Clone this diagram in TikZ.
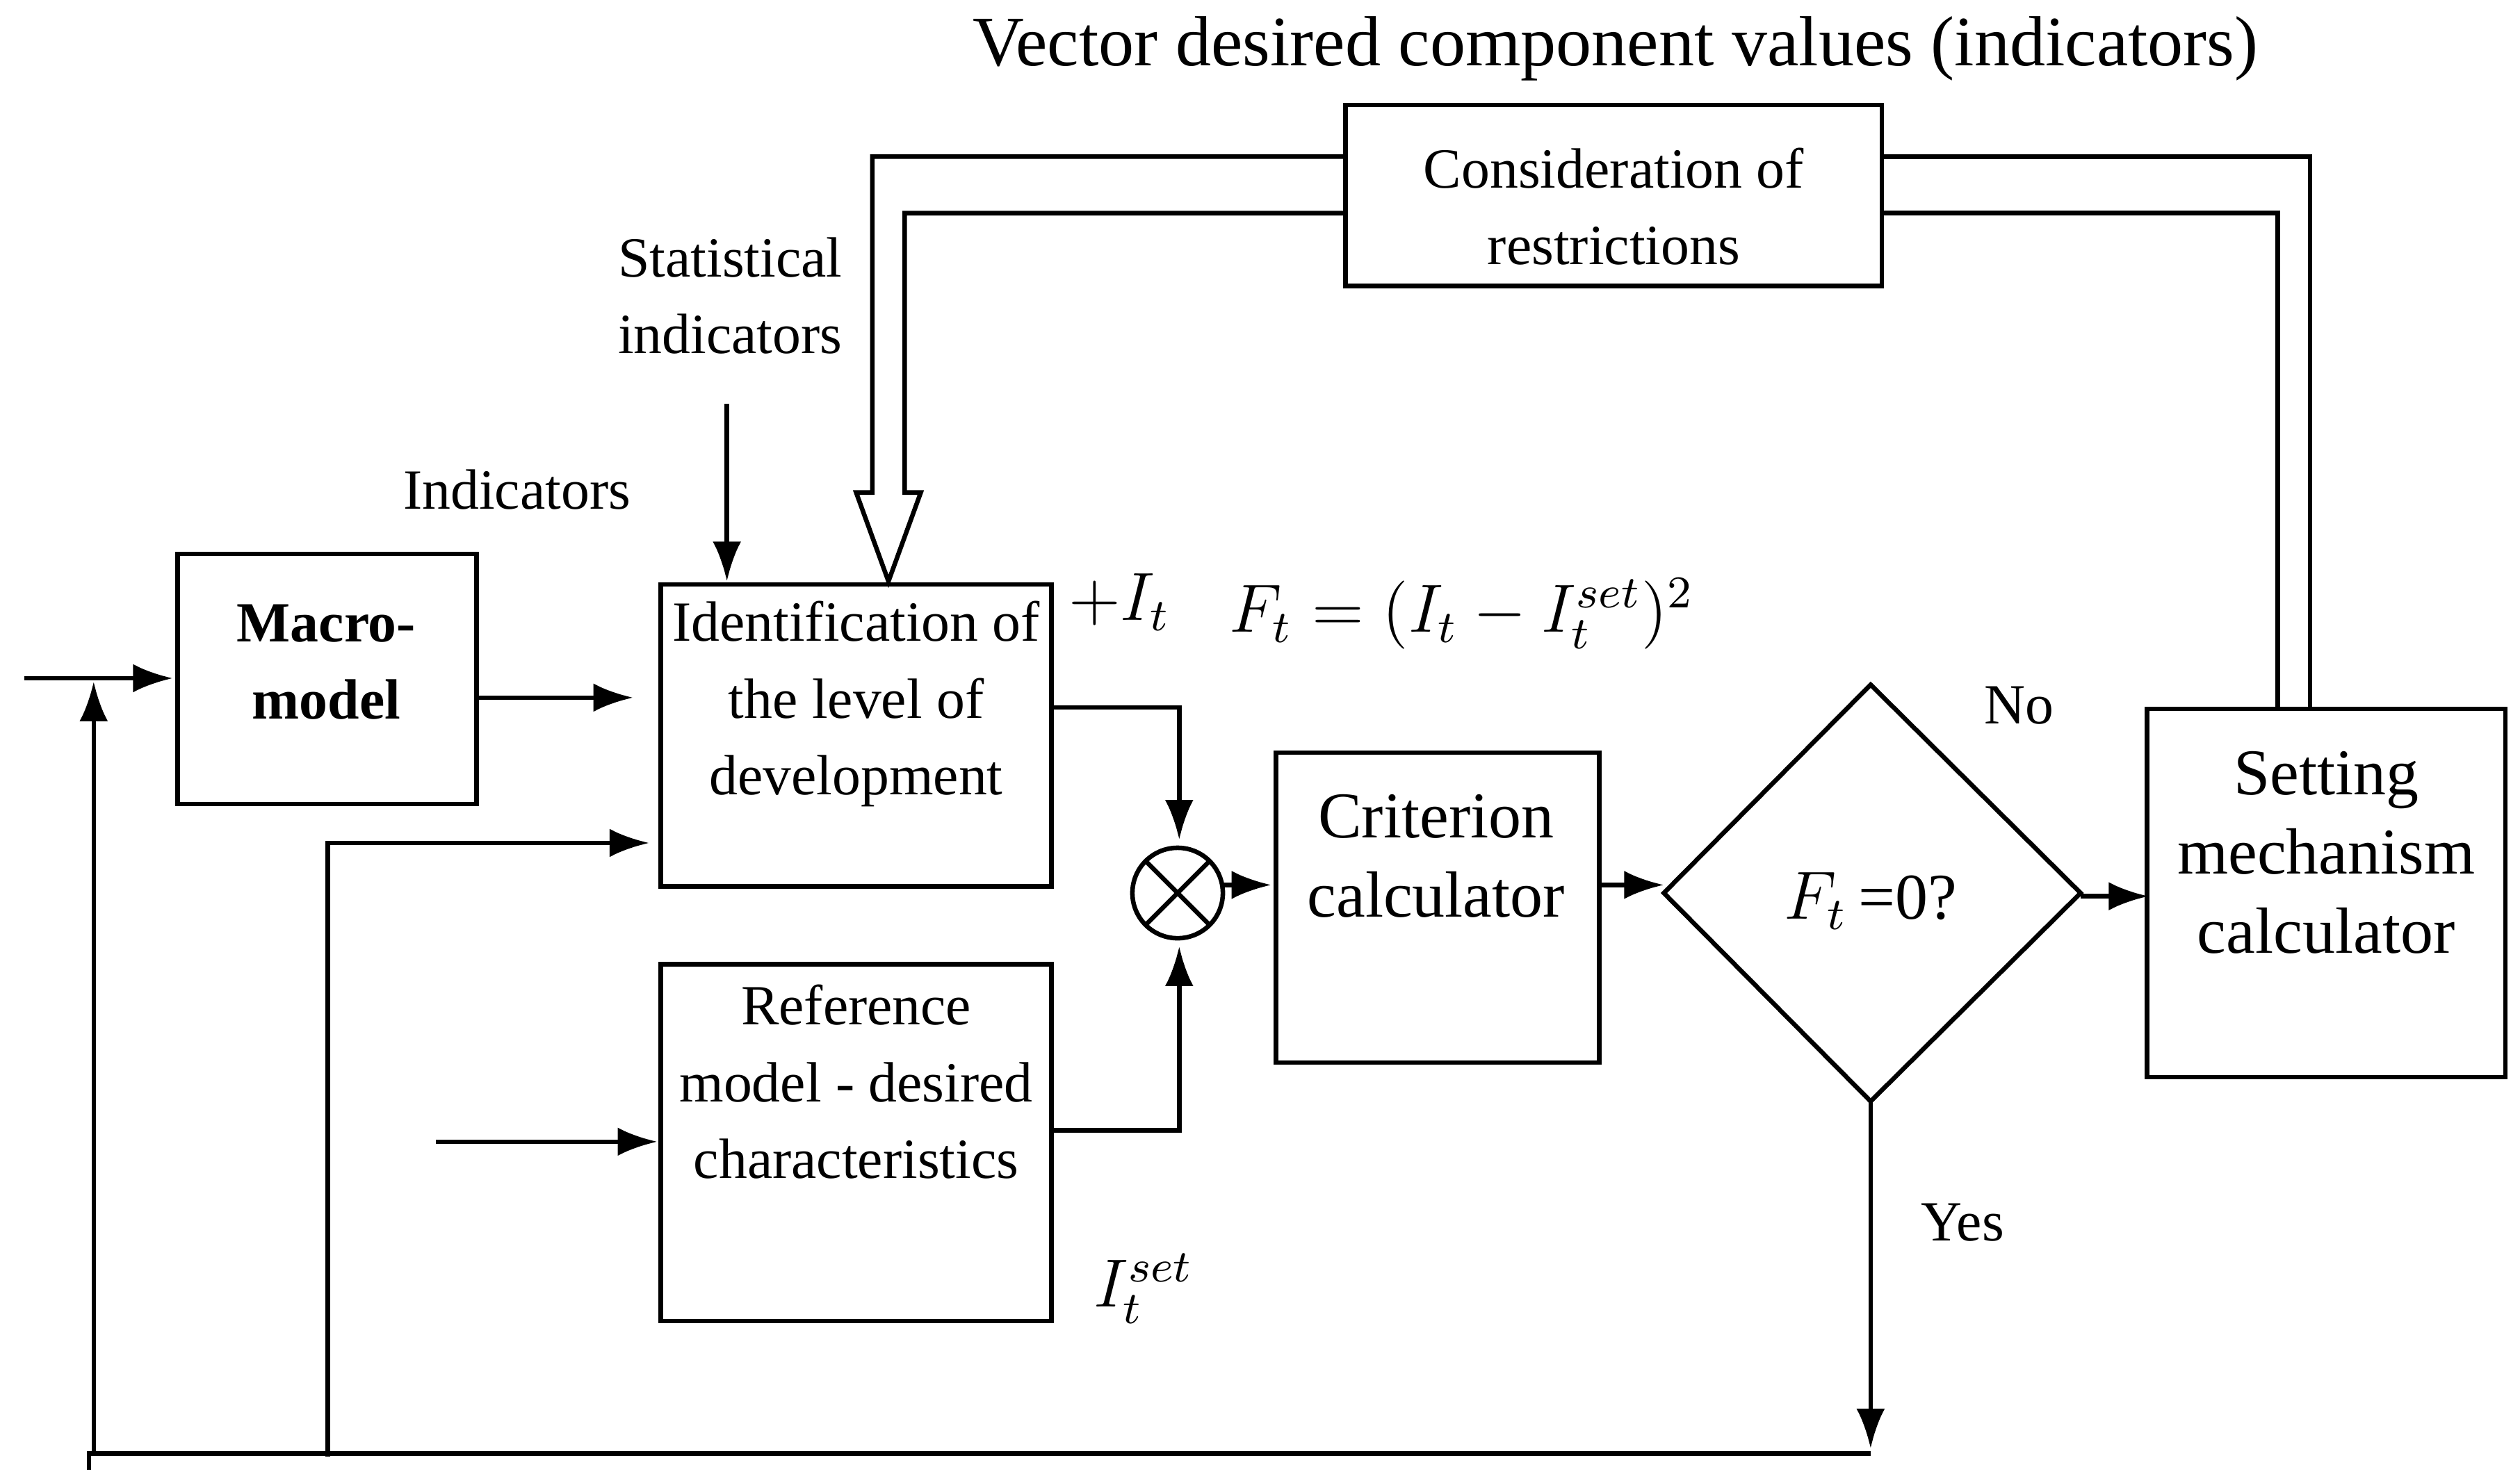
\documentclass[tikz,border=0pt]{standalone}
\usepackage{fontspec}
\setmainfont{Liberation Serif}
\usetikzlibrary{arrows.meta,positioning,shapes.geometric}

\begin{document}
\begin{tikzpicture}[x=0.01cm,y=-0.01cm,
  arr/.style={thick,-{Latex[length=7pt,width=5pt]}},
  lbl/.style={font=\fontsize{10}{13.5}\selectfont,align=center},
  big/.style={font=\fontsize{11.5}{14}\selectfont,align=center}]
\useasboundingbox (0,0) rectangle (1560,918);

% title and blocks
\node[font=\fontsize{12.5}{15}\selectfont] (title) at (1000,30) {Vector desired component values (indicators)};
\draw[thick] (833,65) rectangle (1165,177);
\node[lbl] (restr) at (999,128) {Consideration of\\restrictions};
\draw[thick] (110,343) rectangle (295,498);
\node[lbl,font=\fontsize{10}{13.5}\selectfont\bfseries] (macro) at (202,410) {Macro-\\model};
\draw[thick] (409,362) rectangle (651,549);
\node[lbl] (ident) at (530,436) {Identification of\\the level of\\development};
\draw[thick] (409,597) rectangle (651,818);
\node[lbl] (ref) at (530,670) {Reference\\model - desired\\characteristics};
\draw[thick] (790,466) rectangle (990,658);
\node[big] (crit) at (889,530) {Criterion\\calculator};
\draw[thick] (1329,439) rectangle (1551,667);
\node[big] (sett) at (1440,528) {Setting\\mechanism\\calculator};
\draw[thick] (1158,424) coordinate (dt) -- (1288,553) coordinate (dr)
  -- (1158,682) coordinate (db) -- (1030,553) coordinate (dl) -- cycle;
\node[big] (cond) at (1158,558) {$F_t$\,=0?};
\draw[thick] (729,553) circle (28);
\draw[thick] (709,533) -- (749,573) (749,533) -- (709,573);

% labels
\node[lbl] (stat) at (452,183) {Statistical\\indicators};
\node[lbl] (ind) at (320,303) {Indicators};
\node[big] (plus) at (693,373) {$+I_t$};
\node[big] (form) at (905,380) {$F_t=(I_t-I_t^{set})^2$};
\node[big] (iset) at (708,798) {$I_t^{set}$};
\node[lbl] (no) at (1250,437) {No};
\node[lbl] (yes) at (1215,757) {Yes};

% hollow feedback arrow
\draw[thick] (1410,439) -- (1410,132) -- (1165,132);
\draw[thick] (1430,439) -- (1430,97) -- (1165,97);
\draw[thick] (833,97) -- (540,97) -- (540,305) -- (530,305) -- (550,360) -- (570,305) -- (560,305) -- (560,132) -- (833,132);

% connectors
\draw[arr] (450,250) -- (450,360);
\draw[arr] (15,420) -- (107,420);
\draw[arr] (295,432) -- (392,432);
\draw[arr] (203,902) -- (203,522) -- (402,522);
\draw[arr] (270,707) -- (407,707);
\draw[arr] (651,438) -- (730,438) -- (730,520);
\draw[arr] (651,700) -- (730,700) -- (730,586);
\draw[arr] (757,548) -- (787,548);
\draw[arr] (990,548) -- (1030,548);
\draw[arr] (1288,555) -- (1330,555);
\draw[arr] (db) -- (1158,897);
\draw[thick] (1158,900) -- (55,900) -- (55,910);
\draw[arr] (58,900) -- (58,422);
\end{tikzpicture}
\end{document}
